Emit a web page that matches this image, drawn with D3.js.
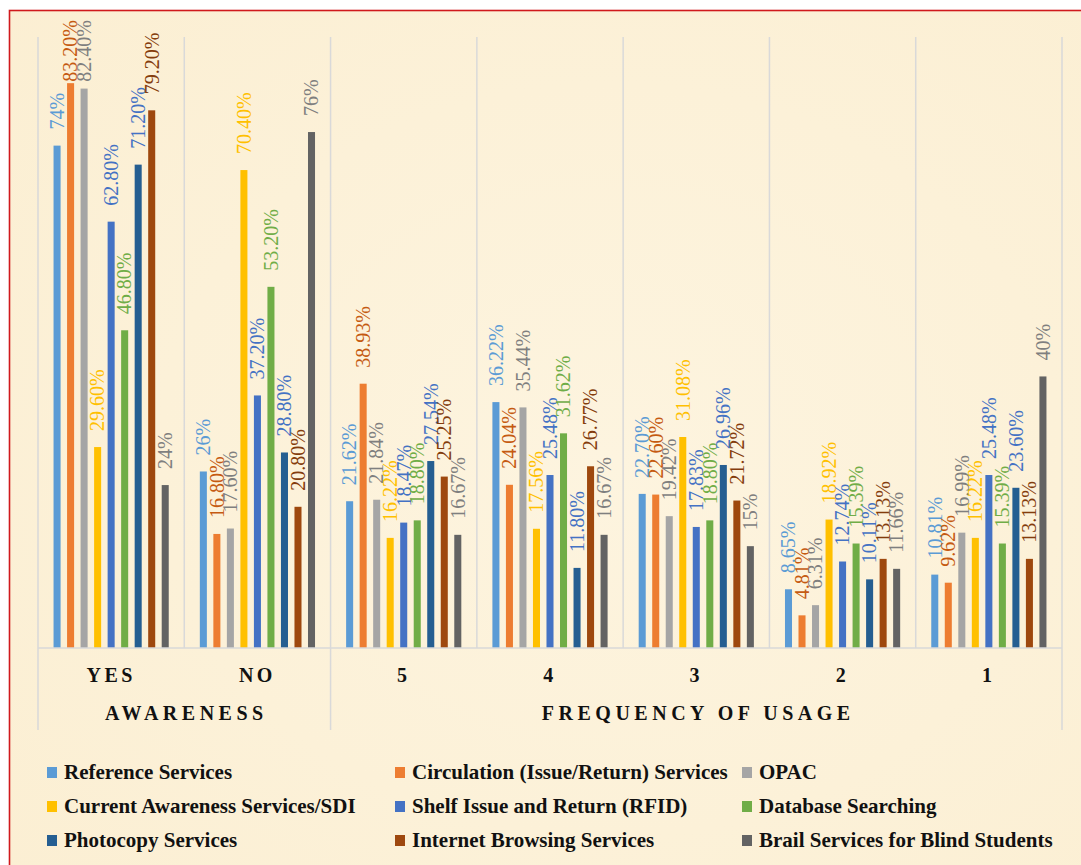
<!DOCTYPE html>
<html>
<head>
<meta charset="utf-8">
<script src="https://cdn.jsdelivr.net/npm/d3@7/dist/d3.min.js"></script>
<style>
  html, body { margin: 0; padding: 0; background: #ffffff; }
  svg { display: block; }
</style>
</head>
<body>
<svg id="chart" width="1081" height="865"></svg>
<script>
// ---- Data ----
const categories = ["YES", "NO", "5", "4", "3", "2", "1"];
const groupLabels = ["AWARENESS", "FREQUENCY OF USAGE"];
const groupSizes = [2, 5];
const seriesNames = [
  "Reference Services",
  "Circulation (Issue/Return) Services",
  "OPAC",
  "Current Awareness Services/SDI",
  "Shelf Issue and Return (RFID)",
  "Database Searching",
  "Photocopy Services",
  "Internet Browsing Services",
  "Brail Services for Blind Students"
];
const referenceServices   = [74, 26, 21.62, 36.22, 22.70, 8.65, 10.81];
const circulationServices = [83.20, 16.80, 38.93, 24.04, 22.60, 4.81, 9.62];
const opac                = [82.40, 17.60, 21.84, 35.44, 19.42, 6.31, 16.99];
const currentAwareness    = [29.60, 70.40, 16.22, 17.56, 31.08, 18.92, 16.22];
const shelfIssueRfid      = [62.80, 37.20, 18.47, 25.48, 17.83, 12.74, 25.48];
const databaseSearching   = [46.80, 53.20, 18.80, 31.62, 18.80, 15.39, 15.39];
const photocopyServices   = [71.20, 28.80, 27.54, 11.80, 26.96, 10.11, 23.60];
const internetBrowsing    = [79.20, 20.80, 25.25, 26.77, 21.72, 13.13, 13.13];
const brailServices       = [24, 76, 16.67, 16.67, 15, 11.66, 40];
const seriesValues = [referenceServices, circulationServices, opac, currentAwareness,
  shelfIssueRfid, databaseSearching, photocopyServices, internetBrowsing, brailServices];
const labelTexts = [
  ["74%", "26%", "21.62%", "36.22%", "22.70%", "8.65%", "10.81%"],
  ["83.20%", "16.80%", "38.93%", "24.04%", "22.60%", "4.81%", "9.62%"],
  ["82.40%", "17.60%", "21.84%", "35.44%", "19.42%", "6.31%", "16.99%"],
  ["29.60%", "70.40%", "16.22%", "17.56%", "31.08%", "18.92%", "16.22%"],
  ["62.80%", "37.20%", "18.47%", "25.48%", "17.83%", "12.74%", "25.48%"],
  ["46.80%", "53.20%", "18.80%", "31.62%", "18.80%", "15.39%", "15.39%"],
  ["71.20%", "28.80%", "27.54%", "11.80%", "26.96%", "10.11%", "23.60%"],
  ["79.20%", "20.80%", "25.25%", "26.77%", "21.72%", "13.13%", "13.13%"],
  ["24%", "76%", "16.67%", "16.67%", "15%", "11.66%", "40%"]
];

// ---- Styles ----
const barColors   = ["#5B9BD5", "#ED7D31", "#A5A5A5", "#FFC000", "#4472C4", "#70AD47", "#255E91", "#9E480E", "#636363"];
const labelColors = ["#5B9BD5", "#C55A11", "#7F7F7F", "#FFC000", "#4472C4", "#70AD47", "#4472C4", "#843C0C", "#7F7F7F"];
const serif = "'Liberation Serif', 'Times New Roman', serif";

const svg = d3.select("#chart");

// background
const defs = svg.append("defs");
const grad = defs.append("radialGradient").attr("id", "parch").attr("cx", "50%").attr("cy", "45%").attr("r", "75%");
grad.append("stop").attr("offset", "0%").attr("stop-color", "#FDF4DF");
grad.append("stop").attr("offset", "100%").attr("stop-color", "#FBEED1");
svg.append("rect").attr("x", 9.5).attr("y", 10.5).attr("width", 1200).attr("height", 1000)
  .attr("fill", "url(#parch)").attr("stroke", "#D0191C").attr("stroke-width", 1.6);

// scales
const plotTop = 37, plotBottom = 648, plotLeft = 38, plotRight = 1062;
const x0 = d3.scaleBand().domain(categories).range([plotLeft, plotRight]).padding(0);
const x1 = d3.scaleBand().domain(seriesNames).range([0, x0.bandwidth()])
  .paddingInner(0.48).paddingOuter(1.15);
const y = d3.scaleLinear().domain([0, 90]).range([plotBottom, plotTop]);

// grid lines at category boundaries
const boundaries = categories.map(c => x0(c)).concat([plotRight]);
const groupEdges = [0];
groupSizes.reduce((acc, n) => { groupEdges.push(acc + n); return acc + n; }, 0);
svg.append("g").selectAll("line").data(boundaries).join("line")
  .attr("x1", d => d).attr("x2", d => d)
  .attr("y1", plotTop)
  .attr("y2", (d, i) => groupEdges.includes(i) ? 730 : plotBottom)
  .attr("stroke", "#D9D9D9").attr("stroke-width", 1.5);

// bars
const barsG = svg.append("g");
seriesNames.forEach((s, si) => {
  barsG.append("g").selectAll("rect").data(seriesValues[si]).join("rect")
    .attr("x", (d, i) => x0(categories[i]) + x1(s))
    .attr("y", d => y(d))
    .attr("width", x1.bandwidth())
    .attr("height", d => plotBottom - y(d))
    .attr("fill", barColors[si]);
});

// baseline
svg.append("line").attr("x1", plotLeft).attr("x2", plotRight)
  .attr("y1", plotBottom).attr("y2", plotBottom)
  .attr("stroke", "#D9D9D9").attr("stroke-width", 1.5);

// data labels (rotated)
const labelsG = svg.append("g");
seriesNames.forEach((s, si) => {
  seriesValues[si].forEach((v, i) => {
    const cx = x0(categories[i]) + x1(s) + x1.bandwidth() / 2;
    const t = labelsG.append("text")
      .attr("font-family", serif).attr("font-size", 20)
      .attr("fill", labelColors[si])
      .attr("dy", "0.34em")
      .text(labelTexts[si][i]);
    const len = t.node().getComputedTextLength();
    const bottom = Math.max(y(v) - 16, 20 + len);
    t.attr("transform", `translate(${cx},${bottom}) rotate(-90)`);
  });
});

// category axis
const axis = d3.axisBottom(x0).tickSize(0).tickPadding(0);
const axG = svg.append("g").attr("transform", `translate(0,${plotBottom})`).call(axis);
axG.select(".domain").remove();
axG.selectAll("text")
  .attr("y", 34).attr("dy", 0)
  .attr("font-family", serif).attr("font-size", 20).attr("font-weight", "bold")
  .attr("letter-spacing", "3.5px").attr("fill", "#111");

// group labels
let start = 0;
groupLabels.forEach((g, gi) => {
  const first = categories[start];
  const last = categories[start + groupSizes[gi] - 1];
  const cx = (x0(first) + x0(last) + x0.bandwidth()) / 2;
  svg.append("text").attr("x", cx + 2).attr("y", 720)
    .attr("text-anchor", "middle")
    .attr("font-family", serif).attr("font-size", 20).attr("font-weight", "bold")
    .attr("letter-spacing", "4.5px").attr("fill", "#111")
    .text(g);
  start += groupSizes[gi];
});

// legend
const legendCols = [47, 395, 742];
const legendRows = [772, 806, 840];
const legendG = svg.append("g");
seriesNames.forEach((s, si) => {
  const lx = legendCols[si % 3], ly = legendRows[Math.floor(si / 3)];
  legendG.append("rect").attr("x", lx).attr("y", ly - 5).attr("width", 10).attr("height", 11)
    .attr("fill", barColors[si]);
  legendG.append("text").attr("x", lx + 17).attr("y", ly + 7)
    .attr("font-family", serif).attr("font-size", 21).attr("font-weight", "bold")
    .attr("fill", "#111").text(s);
});
</script>
</body>
</html>
